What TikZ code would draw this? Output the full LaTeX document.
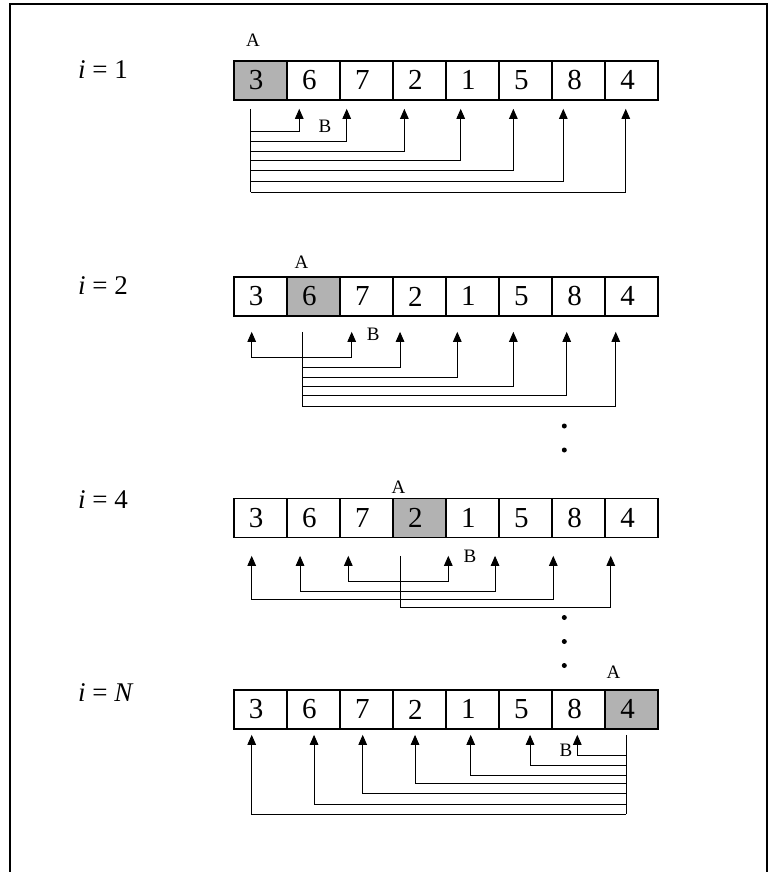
\documentclass[tikz,border=0pt]{standalone}
\usepackage{fontspec}
\setmainfont{Liberation Serif}
\usetikzlibrary{calc, arrows.meta}
\tikzset{%
  cell/.style={draw, line width=1.8pt, minimum width=53.05pt, minimum height=39pt,
               inner sep=0pt, anchor=north west, font=\fontsize{29}{29}\selectfont},
  lbl/.style={inner sep=0pt, font=\fontsize{19}{19}\selectfont},
  row/.style={inner sep=0pt, anchor=west, font=\fontsize{27}{27}\selectfont},
  link/.style={line width=1pt},
  cmp/.style={link, -{Triangle[length=10pt, width=8.5pt]}},
  dot/.style={fill, circle, inner sep=0pt, minimum size=5pt},
}

\begin{document}
\begin{tikzpicture}[x=1pt, y=-1pt]

    \useasboundingbox (0,0) rectangle (770,872);

    % frame
    \coordinate (F1) at (10,872);
    \coordinate (F2) at (10,4);
    \coordinate (F3) at (767,4);
    \coordinate (F4) at (767,872);
    \draw[line width=1.2pt] (F1) -- (F2) -- (F3) -- (F4);

    % the array in each pass, shaded cell is A
    \foreach \r/\y/\a in {1/60/0, 2/276/1, 3/497.5/3, 4/689/7}{
      \foreach \v [count=\j from 0] in {3,6,7,2,1,5,8,4}{
        \ifnum\j=\a \def\cl{black!30}\else\def\cl{white}\fi
        \node[cell, fill=\cl] (c\r-\j) at ({232.8+53.05*\j},\y) {\hspace*{-8pt}\v};
      }
    }

    % pass labels
    \node[row] (i1) at (78,69.5) {\textit{i} = 1};
    \node[row] (i2) at (78,286) {\textit{i} = 2};
    \node[row] (i4) at (78,499.5) {\textit{i} = 4};
    \node[row] (iN) at (78,692.5) {\textit{i} = \textit{N}};

    % A and B
    \node[lbl] (A1) at (253,40) {A};
    \node[lbl] (A2) at (301.6,262.5) {A};
    \node[lbl] (A3) at (398.5,487) {A};
    \node[lbl] (A4) at (613.5,672) {A};
    \node[lbl] (B1) at (325,126.5) {B};
    \node[lbl] (B2) at (373.3,334.5) {B};
    \node[lbl] (B3) at (470,556.5) {B};
    \node[lbl] (B4) at (566,750) {B};

    %i = 1
    \coordinate (s1) at ($(c1-0.south west)+(17.7,8)$);
    \draw[link] (s1) -- ++(0,83.5);
    \foreach \j/\dx/\h in {1/13.4/22.5, 2/7.8/33, 3/12.4/43, 4/15.7/51.5,
                           5/15.3/61.3, 6/12.2/72.3, 7/21.6/83.5}
      \draw[cmp] ($(s1)+(0,\h)$) -| ($(c1-\j.south west)+(\dx,8)$);

    %i = 2
    \coordinate (s2) at ($(c2-1.south west)+(16.9,15)$);
    \draw[link] (s2) -- ++(0,75);
    \foreach \j/\dx/\h in {0/18.9/25.7, 2/12.8/25.7, 3/8.1/36, 4/12.3/46,
                           5/15.3/54.5, 6/15.6/64, 7/11.6/75}
      \draw[cmp] ($(s2)+(0,\h)$) -| ($(c2-\j.south west)+(\dx,15)$);

    %i = 4
    \coordinate (s3) at ($(c3-3.south west)+(8.1,17.5)$);
    \draw[link] (s3) -- ++(0,52);
    \foreach \j/\dx/\h in {0/18.9/43.7, 1/14.2/36, 2/9.4/25.3, 4/3.3/25.3,
                           5/-3/36, 6/2.2/43.7, 7/6.6/52}
      \draw[cmp] ($(s3)+(0,\h)$) -| ($(c3-\j.south west)+(\dx,17.5)$);

    %i = N
    \coordinate (s4) at ($(c4-7.south west)+(21.9,5)$);
    \draw[link] (s4) -- ++(0,79.3);
    \foreach \j/\dx/\h in {6/26.2/20.3, 5/32/30.3, 4/25.7/40.3, 3/23.1/48.7,
                           2/23.8/58.7, 1/28.2/69.3, 0/18.9/79.3}
      \draw[cmp] ($(s4)+(0,\h)$) -| ($(c4-\j.south west)+(\dx,5)$);

    % dots between passes
    \foreach \n/\y in {1/426, 2/450, 3/617.5, 4/641.5, 5/665.5}
      \node[dot] (d\n) at (564.3,\y) {};

\end{tikzpicture}
\end{document}
